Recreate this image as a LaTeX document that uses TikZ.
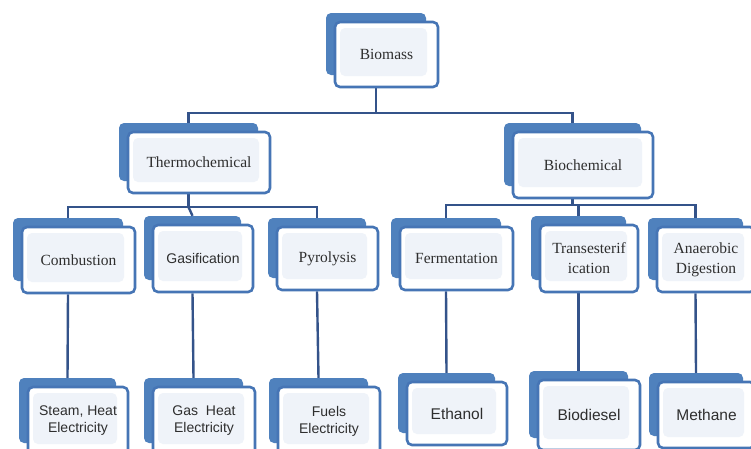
\documentclass[tikz,border=0pt]{standalone}
\usepackage{fontspec}
\setmainfont{Liberation Serif}
\setsansfont{Liberation Sans}
\usetikzlibrary{calc,backgrounds}
\definecolor{backblue}{HTML}{4F81BD}
\definecolor{edgeblue}{HTML}{4675B5}
\definecolor{linkblue}{HTML}{34538A}
\definecolor{innerfill}{HTML}{EFF3F9}
\definecolor{txt}{HTML}{2E2E2E}
\tikzset{
  frontbox/.style={draw=edgeblue, line width=2.6pt, rounded corners=5pt, fill=white,
    align=center, inner sep=1pt, text=txt,
    path picture={\fill[innerfill] ($(path picture bounding box.south west)+(5pt,11pt)$)
       rectangle ($(path picture bounding box.north east)+(-11pt,-6pt)$);}},
  backbox/.style={fill=backblue, rounded corners=5pt, inner sep=0pt},
  link/.style={draw=linkblue, line width=2.4pt},
  serifsty/.style={font=\fontsize{15.5}{20}\selectfont},
  sanssty/.style={font=\sffamily\fontsize{14}{17}\selectfont},
  sansbig/.style={font=\sffamily\fontsize{15.5}{18}\selectfont}
}
\newcommand\tbox[7]{%
  \node[frontbox,#7, minimum width=#4pt, minimum height=#5pt] (#1) at (#2,#3) {#6};
  \begin{scope}[on background layer]
    \node[backbox, minimum width={#4pt-3pt}, minimum height={#5pt-3pt}] (#1B)
      at ($(#1.center)+(-10.5pt,10.5pt)$) {};
  \end{scope}
}
\begin{document}
\begin{tikzpicture}[x=1pt,y=-1pt]
\useasboundingbox (0,0) rectangle (751,448);
\begin{scope}[on background layer]
  \fill[white] (0,0) rectangle (751,448);
\end{scope}
% level 1
\tbox{bio}{386.5}{54.5}{103}{65}{Biomass}{serifsty}
% level 2
\tbox{thermo}{199}{162.5}{142}{61}{Thermochemical}{serifsty}
\tbox{biochem}{583}{165}{140}{66}{Biochemical}{serifsty}
% level 3
\tbox{comb}{78.5}{260}{113}{66}{Combustion}{serifsty}
\tbox{gas}{203}{258.5}{100}{67}{Gasification}{sanssty}
\tbox{pyro}{327.5}{258.5}{101}{63}{Pyrolysis}{serifsty}
\tbox{ferm}{456.5}{258.5}{113}{63}{Fermentation}{serifsty}
\tbox{trans}{589}{258.5}{98}{67}{Transesterif\\ication}{serifsty}
\tbox{anae}{706}{259.5}{98}{65}{Anaerobic\\Digestion}{serifsty}
% level 4
\tbox{steam}{78}{421}{100}{68}{Steam, Heat\\Electricity}{sanssty}
\tbox{gasheat}{204}{421}{102}{68}{Gas\ \ Heat\\Electricity}{sanssty}
\tbox{fuels}{329}{421}{102}{68}{Fuels\\Electricity}{sanssty}
\tbox{eth}{457}{413.5}{100}{63}{Ethanol}{sansbig}
\tbox{biod}{589}{415}{102}{70}{Biodiesel}{sansbig}
\tbox{meth}{706.5}{415}{97}{66}{Methane}{sansbig}
% bars
\coordinate (barA) at (0,113);
\coordinate (barB) at (0,207);
\coordinate (barC) at (0,205);
\begin{scope}[on background layer]
\draw[link] (bioB.south |- bio.south) -- (bioB.south |- barA) -| (thermoB.north);
\draw[link] (bioB.south |- barA) -| (biochemB.north);
\draw[link] (thermoB.south |- thermo.south) -- (thermoB.south |- barB) -| (combB.north);
\draw[link] (thermoB.south |- barB) -- (gasB.north);
\draw[link] (thermoB.south |- barB) -| (pyroB.north);
\draw[link] (biochemB.south |- biochem.south) -- (biochemB.south |- barC) -| (fermB.north);
\draw[link] (biochemB.south |- barC) -| (transB.north);
\draw[link] (biochemB.south |- barC) -| (anaeB.north);
\draw[link] (combB.south |- comb.south) -- (steamB.north);
\draw[link] (gasB.south |- gas.south) -- (gasheatB.north);
\draw[link] (pyroB.south |- pyro.south) -- (fuelsB.north);
\draw[link] (fermB.south |- ferm.south) -- (ethB.north);
\draw[link] (transB.south |- trans.south) -- (biodB.north);
\draw[link] (anaeB.south |- anae.south) -- (methB.north);
\end{scope}
\end{tikzpicture}
\end{document}
